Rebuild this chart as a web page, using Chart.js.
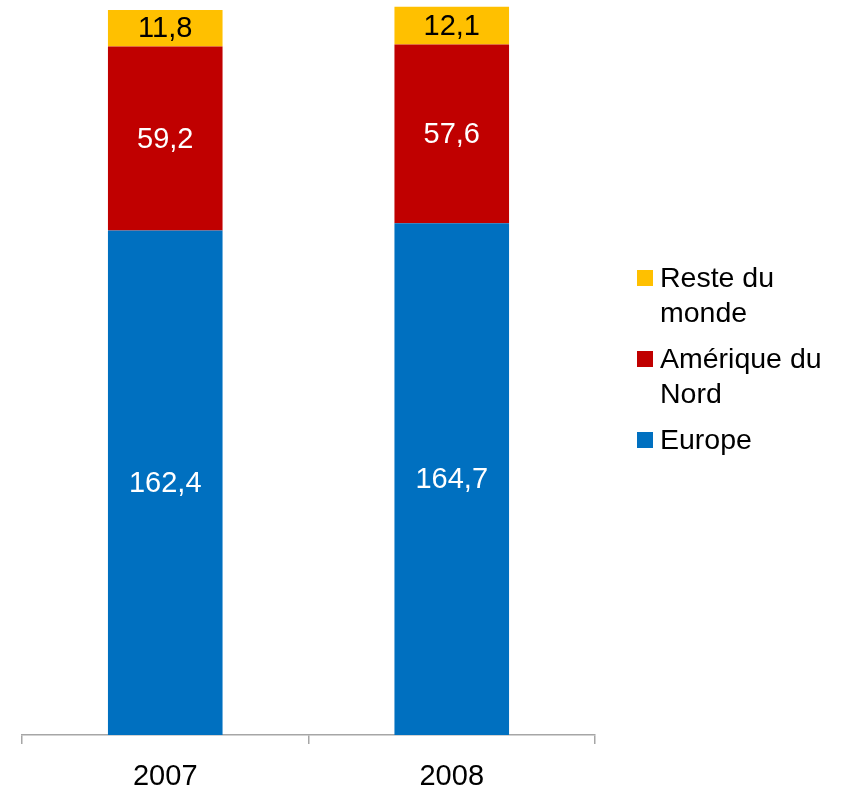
<!DOCTYPE html>
<html>
<head>
<meta charset="utf-8">
<script src="https://cdn.jsdelivr.net/npm/chart.js@4/dist/chart.umd.min.js"></script>
<style>
  html, body { margin: 0; padding: 0; background: #fff; }
  #wrap { position: relative; width: 841px; height: 792px; }
  #c { position: absolute; left: 0; top: 0; }
  #legend { position: absolute; left: 637px; top: 260px; font-family: "Liberation Sans", Arial, sans-serif; font-size: 28.5px; color: #000; }
  .item { display: flex; align-items: flex-start; margin-bottom: 11px; }
  .mk { width: 16px; height: 16px; margin-top: 10px; margin-right: 7px; flex: none; }
  .tx { width: 178px; line-height: 35px; }
</style>
</head>
<body>
<div id="wrap">
  <canvas id="c" width="841" height="792"></canvas>
  <div id="legend"></div>
</div>
<script>
const categories = ["2007", "2008"];
const europe = [162.4, 164.7];
const ameriqueNord = [59.2, 57.6];
const resteMonde = [11.8, 12.1];
const seriesNames = ["Europe", "Amérique du Nord", "Reste du monde"];
const seriesColors = ["#0070C0", "#C00000", "#FFC000"];
const labelColors = ["#FFFFFF", "#FFFFFF", "#000000"];

const FONT = '"Liberation Sans", Arial, sans-serif';

const dataLabels = {
  id: 'dataLabels',
  afterDatasetsDraw(chart) {
    const ctx = chart.ctx;
    ctx.save();
    ctx.font = '29px ' + FONT;
    ctx.textAlign = 'center';
    ctx.textBaseline = 'middle';
    chart.data.datasets.forEach((ds, di) => {
      const meta = chart.getDatasetMeta(di);
      meta.data.forEach((el, i) => {
        const v = ds.data[i];
        ctx.fillStyle = labelColors[di];
        ctx.fillText(v.toFixed(1).replace('.', ','), el.x, (el.y + el.base) / 2 + 1);
      });
    });
    ctx.restore();
  }
};

const seriesData = [europe, ameriqueNord, resteMonde];
const chart = new Chart(document.getElementById('c'), {
  type: 'bar',
  data: {
    labels: categories,
    datasets: seriesData.map((d, i) => ({
      label: seriesNames[i],
      data: d,
      backgroundColor: seriesColors[i],
      borderWidth: 0,
      barPercentage: 0.5,
      categoryPercentage: 0.8
    }))
  },
  options: {
    responsive: false,
    animation: false,
    layout: { padding: { left: 22, right: 246, top: 0, bottom: 0 } },
    plugins: { legend: { display: false }, tooltip: { enabled: false } },
    scales: {
      x: {
        stacked: true,
        border: { display: true, color: '#A6A6A6', width: 1.5 },
        grid: { display: true, drawOnChartArea: false, drawTicks: true, tickLength: 9, color: '#A6A6A6', lineWidth: 1.5, offset: true },
        ticks: { color: '#000', font: { family: FONT, size: 29 }, padding: 16 },
        afterFit(axis) { axis.height = 57; }
      },
      y: {
        stacked: true,
        display: false,
        min: 0,
        max: 236.6
      }
    }
  },
  plugins: [dataLabels]
});

// HTML legend (reverse order, top = last stacked series)
const legend = document.getElementById('legend');
for (let i = seriesNames.length - 1; i >= 0; i--) {
  const it = document.createElement('div');
  it.className = 'item';
  const mk = document.createElement('div');
  mk.className = 'mk';
  mk.style.background = seriesColors[i];
  const tx = document.createElement('div');
  tx.className = 'tx';
  tx.textContent = seriesNames[i];
  it.appendChild(mk);
  it.appendChild(tx);
  legend.appendChild(it);
}
</script>
</body>
</html>
